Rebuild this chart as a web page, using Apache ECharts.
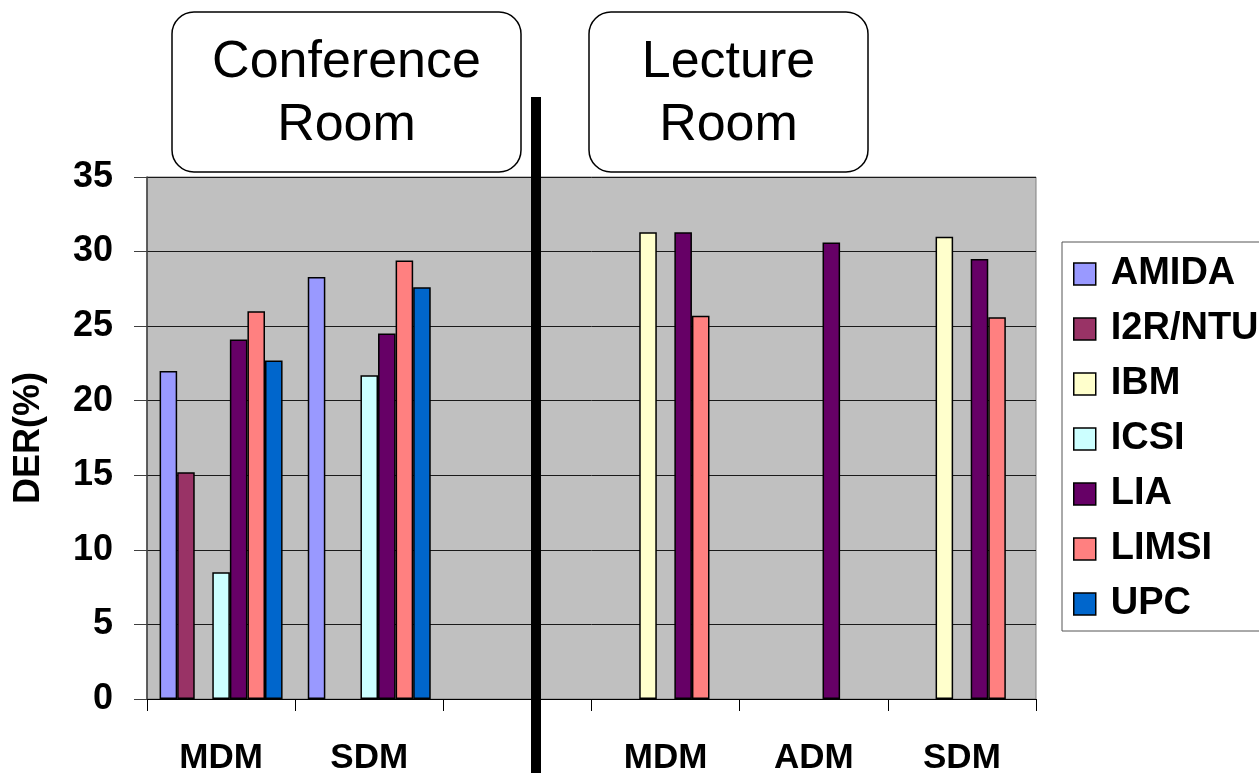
<!DOCTYPE html>
<html>
<head>
<meta charset="utf-8">
<script src="https://cdn.jsdelivr.net/npm/echarts@6/dist/echarts.min.js"></script>
<style>
  html, body { margin: 0; padding: 0; background: #ffffff; }
  #chart { width: 1259px; height: 773px; }
</style>
</head>
<body>
<div id="chart"></div>
<script>
// Diarization error rate per system, by microphone condition.
// Columns 1-2: Conference Room; column 3 is an empty spacer; columns 4-6: Lecture Room.
const categories = ['MDM', 'SDM', '', 'MDM', 'ADM', 'SDM'];
const systems = ['AMIDA', 'I2R/NTU', 'IBM', 'ICSI', 'LIA', 'LIMSI', 'UPC'];
const amida  = [22.0, 28.3, null, null, null, null];
const i2rNtu = [15.2, null, null, null, null, null];
const ibm    = [null, null, null, 31.3, null, 31.0];
const icsi   = [8.5, 21.7, null, null, null, null];
const lia    = [24.1, 24.5, null, 31.3, 30.6, 29.5];
const limsi  = [26.0, 29.4, null, 25.7, null, 25.6];
const upc    = [22.7, 27.6, null, null, null, null];
const colors = ['#9999FF', '#993366', '#FFFFCC', '#CCFFFF', '#660066', '#FF8080', '#0066CC'];
const yMin = 0, yMax = 35, yStep = 5;
const roomTitles = ['Conference\nRoom', 'Lecture\nRoom'];

const FONT = '"Liberation Sans", Arial, Helvetica, sans-serif';
const seriesData = [amida, i2rNtu, ibm, icsi, lia, limsi, upc];

const chart = echarts.init(document.getElementById('chart'), null, { renderer: 'canvas' });

// Rounded caption box with a two-line room name.
function roomBox(x, y, w, h, label) {
  return {
    type: 'group',
    z: 50,
    children: [
      {
        type: 'rect',
        shape: { x: x, y: y, width: w, height: h, r: 22 },
        style: { fill: '#ffffff', stroke: '#000000', lineWidth: 1.5 }
      },
      {
        type: 'text',
        x: x + w / 2,
        y: y + h / 2 + 2,
        style: {
          text: label,
          font: '52px ' + FONT,
          fill: '#000000',
          textAlign: 'center',
          textVerticalAlign: 'middle',
          lineHeight: 63
        }
      }
    ]
  };
}

chart.setOption({
  animation: false,
  backgroundColor: '#ffffff',
  textStyle: { fontFamily: FONT },
  grid: {
    left: 147, right: 223, top: 177, bottom: 74,
    show: true,
    backgroundColor: '#C0C0C0',
    borderColor: '#808080',
    borderWidth: 1,
    containLabel: false,
    outerBoundsMode: 'none'
  },
  legend: {
    orient: 'vertical',
    left: 1062,
    top: 242,
    data: systems,
    icon: 'rect',
    itemWidth: 22,
    itemHeight: 22,
    itemGap: 17,
    padding: [13, 40, 8, 11],
    backgroundColor: '#ffffff',
    borderColor: '#555555',
    borderWidth: 1,
    borderRadius: 0,
    selectedMode: false,
    itemStyle: { borderColor: '#000000', borderWidth: 1.5 },
    textStyle: {
      fontFamily: FONT,
      fontSize: 38,
      fontWeight: 'bold',
      color: '#000000',
      padding: [0, 0, 0, 10]
    }
  },
  xAxis: {
    type: 'category',
    data: categories,
    axisLine: { show: true, lineStyle: { color: '#000000', width: 1 } },
    axisTick: { show: true, length: 12, lineStyle: { color: '#000000', width: 1 } },
    axisLabel: {
      interval: 0,
      margin: 42,
      fontSize: 35,
      fontWeight: 'bold',
      color: '#000000',
      fontFamily: FONT
    },
    splitLine: { show: false }
  },
  yAxis: {
    type: 'value',
    min: yMin,
    max: yMax,
    interval: yStep,
    name: 'DER(%)',
    nameLocation: 'middle',
    nameRotate: 90,
    nameGap: 100,
    nameTextStyle: { fontSize: 36, fontWeight: 'bold', color: '#000000', fontFamily: FONT },
    axisLine: { show: true, lineStyle: { color: '#404040', width: 1.5 } },
    axisTick: { show: true, length: 13, inside: false, lineStyle: { color: '#404040', width: 1 } },
    axisLabel: {
      margin: 34,
      fontSize: 36,
      fontWeight: 'bold',
      color: '#000000',
      fontFamily: FONT
    },
    splitLine: { show: true, lineStyle: { color: '#1a1a1a', width: 1 } }
  },
  series: systems.map(function (name, i) {
    return {
      name: name,
      type: 'bar',
      data: seriesData[i],
      barGap: '0%',
      barCategoryGap: '17%',
      itemStyle: { color: colors[i], borderColor: '#000000', borderWidth: 1.5 }
    };
  }),
  graphic: [
    roomBox(172, 12, 349, 160, roomTitles[0]),
    roomBox(589, 12, 279, 160, roomTitles[1]),
    {
      type: 'rect',
      z: 100,
      shape: { x: 531, y: 97, width: 10, height: 676 },
      style: { fill: '#000000' }
    }
  ]
});
</script>
</body>
</html>
